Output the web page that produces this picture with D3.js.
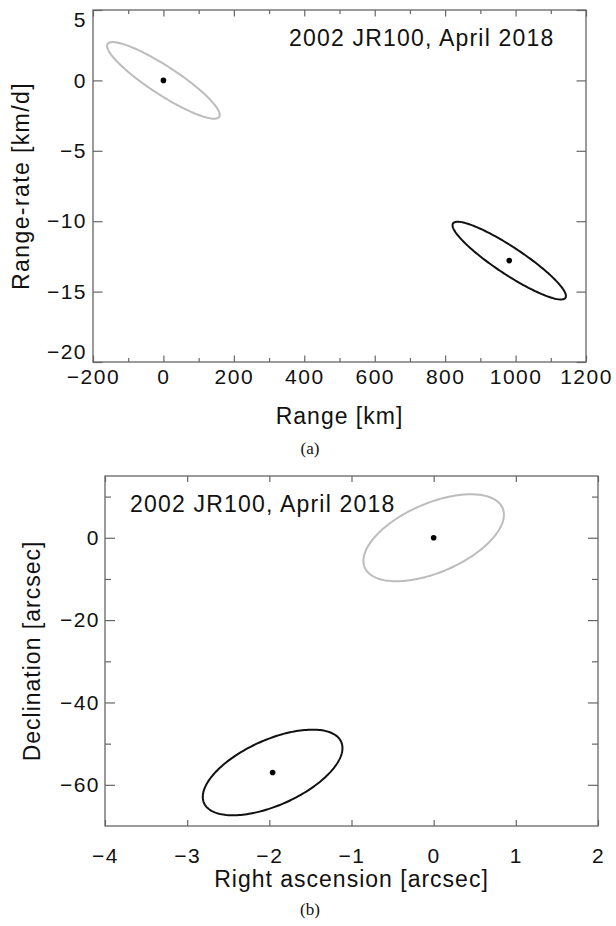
<!DOCTYPE html>
<html>
<head>
<meta charset="utf-8">
<script src="https://cdn.jsdelivr.net/npm/d3@7"></script>
<style>
  html, body { margin: 0; padding: 0; background: #fff; }
  svg { display: block; }
</style>
</head>
<body>
<svg id="chart" width="616" height="926"></svg>
<script>
// ---------------- DATA ----------------
const titleText = "2002 JR100, April 2018";

// Panel (a): range / range-rate
const aXDomain = [-200, 1200];
const aYDomain = [-20, 5];
const aXTicks = [-200, 0, 200, 400, 600, 800, 1000, 1200];
const aXMinorTicks = [-100, 100, 300, 500, 700, 900, 1100];
const aYTicks = [-20, -15, -10, -5, 0, 5];
const aCenterX = [0, 982];        // km
const aCenterY = [0, -12.8];      // km/d
const aSigmaX = [160, 161];       // half-extent in range
const aSigmaY = [2.72, 2.76];     // half-extent in range-rate
const aRho = [-0.9, -0.91];       // correlation
const aXLabel = "Range [km]";
const aYLabel = "Range-rate [km/d]";

// Panel (b): RA / Dec
const bXDomain = [-4, 2];
const bYDomain = [-70, 15];
const bXTicks = [-4, -3, -2, -1, 0, 1, 2];
const bYTicks = [-60, -40, -20, 0];
const bYMinorTicks = [-50, -30, -10, 10];
const bCenterX = [0, -1.96];
const bCenterY = [0, -57.0];
const bSigmaX = [0.855, 0.85];
const bSigmaY = [10.56, 10.4];
const bRho = [0.53, 0.57];
const bXLabel = "Right ascension [arcsec]";
const bYLabel = "Declination [arcsec]";

// ---------------- STYLE ----------------
const ellipseColors = ["#bcbcbc", "#111111"];
const frameColor = "#666";
const SANS = "'Liberation Sans', Arial, Helvetica, sans-serif";
const SERIF = "'Liberation Serif', 'Times New Roman', serif";

const svg = d3.select("#chart");
svg.append("rect").attr("width", 616).attr("height", 926).attr("fill", "#fff");

const fmt = d3.format("d");

function ellipsePoints(cx, cy, sx, sy, rho) {
  const pts = [];
  const s = Math.sqrt(1 - rho * rho);
  for (let i = 0; i <= 200; i++) {
    const t = (i / 200) * 2 * Math.PI;
    pts.push([cx + sx * Math.cos(t), cy + sy * (rho * Math.cos(t) + s * Math.sin(t))]);
  }
  return pts;
}

function panel(opt) {
  const { left, right, top, bottom } = opt;
  const x = d3.scaleLinear().domain(opt.xDomain).range([left, right]);
  const y = d3.scaleLinear().domain(opt.yDomain).range([bottom, top]);
  const g = svg.append("g");

  const styleAxis = sel => {
    sel.select(".domain").remove();
    sel.selectAll(".tick line").attr("stroke", frameColor).attr("stroke-width", 1.2);
    sel.selectAll(".tick text")
      .attr("fill", "#111")
      .style("font-family", SANS)
      .style("font-size", opt.tickFont + "px")
      .style("letter-spacing", opt.tickLS + "px");
  };

  // bottom major (with labels)
  g.append("g").attr("transform", `translate(0,${bottom})`)
    .call(d3.axisBottom(x).tickValues(opt.xTicks).tickFormat(fmt)
      .tickSizeInner(-opt.xMajorLen).tickSizeOuter(0).tickPadding(opt.xPad))
    .call(styleAxis);
  // top major
  g.append("g").attr("transform", `translate(0,${top})`)
    .call(d3.axisTop(x).tickValues(opt.xTicks).tickFormat("")
      .tickSizeInner(-opt.xMajorLen).tickSizeOuter(0))
    .call(styleAxis);
  if (opt.xMinor) {
    g.append("g").attr("transform", `translate(0,${bottom})`)
      .call(d3.axisBottom(x).tickValues(opt.xMinor).tickFormat("")
        .tickSizeInner(-opt.xMinorLen).tickSizeOuter(0))
      .call(styleAxis);
    g.append("g").attr("transform", `translate(0,${top})`)
      .call(d3.axisTop(x).tickValues(opt.xMinor).tickFormat("")
        .tickSizeInner(-opt.xMinorLen).tickSizeOuter(0))
      .call(styleAxis);
  }
  // left major with labels
  const yl = g.append("g").attr("transform", `translate(${left},0)`)
    .call(d3.axisLeft(y).tickValues(opt.yTicks).tickFormat(fmt)
      .tickSizeInner(-opt.yMajorLen).tickSizeOuter(0).tickPadding(opt.yPad))
    .call(styleAxis);
  // keep end labels inside the frame's vertical span
  const capHalf = 0.36 * opt.tickFont;
  yl.selectAll(".tick").each(function(d) {
    const ty = y(d);
    let shift = 0;
    if (ty - capHalf < top + 2) shift = (top + 2 + capHalf) - ty;
    if (ty + capHalf > bottom - 3) shift = (bottom - 3 - capHalf) - ty;
    if (shift !== 0) d3.select(this).select("text").attr("dy", (0.32 * opt.tickFont + shift) + "px");
  });
  g.append("g").attr("transform", `translate(${right},0)`)
    .call(d3.axisRight(y).tickValues(opt.yTicks).tickFormat("")
      .tickSizeInner(-opt.yMajorLen).tickSizeOuter(0))
    .call(styleAxis);
  if (opt.yMinor) {
    g.append("g").attr("transform", `translate(${left},0)`)
      .call(d3.axisLeft(y).tickValues(opt.yMinor).tickFormat("")
        .tickSizeInner(-opt.yMinorLen).tickSizeOuter(0))
      .call(styleAxis);
    g.append("g").attr("transform", `translate(${right},0)`)
      .call(d3.axisRight(y).tickValues(opt.yMinor).tickFormat("")
        .tickSizeInner(-opt.yMinorLen).tickSizeOuter(0))
      .call(styleAxis);
  }

  // frame
  g.append("rect")
    .attr("x", x(opt.xDomain[0])).attr("y", y(opt.yDomain[1]))
    .attr("width", x(opt.xDomain[1]) - x(opt.xDomain[0]))
    .attr("height", y(opt.yDomain[0]) - y(opt.yDomain[1]))
    .attr("fill", "none").attr("stroke", frameColor).attr("stroke-width", 1.3);

  // ellipses
  const line = d3.line().x(d => x(d[0])).y(d => y(d[1])).curve(d3.curveLinearClosed);
  opt.cx.forEach((cx, i) => {
    g.append("path")
      .attr("d", line(ellipsePoints(cx, opt.cy[i], opt.sx[i], opt.sy[i], opt.rho[i])))
      .attr("fill", "none").attr("stroke", ellipseColors[i]).attr("stroke-width", 2);
    g.append("circle").attr("cx", x(cx)).attr("cy", y(opt.cy[i])).attr("r", 2.8).attr("fill", "#000");
  });

  // title
  g.append("text").attr("x", opt.titleX).attr("y", opt.titleY)
    .style("font-family", SANS).style("font-size", "23px").style("letter-spacing", "1.2px")
    .attr("fill", "#111").text(titleText);

  // axis labels
  g.append("text").attr("x", (left + right) / 2).attr("y", opt.xLabelY)
    .attr("text-anchor", "middle")
    .style("font-family", SANS).style("font-size", "23px").style("letter-spacing", "1px")
    .attr("fill", "#111").text(opt.xLabel);
  g.append("text")
    .attr("transform", `translate(${opt.yLabelX},${(top + bottom) / 2}) rotate(-90)`)
    .attr("text-anchor", "middle")
    .style("font-family", SANS).style("font-size", "23px").style("letter-spacing", opt.yLabelLS + "px")
    .attr("fill", "#111").text(opt.yLabel);

  // caption
  g.append("text").attr("x", 310).attr("y", opt.capY).attr("text-anchor", "middle")
    .style("font-family", SERIF).style("font-size", "17px")
    .attr("fill", "#111").text(opt.caption);
}

panel({
  left: 93, right: 586, top: 10, bottom: 362,
  xDomain: aXDomain, yDomain: aYDomain,
  xTicks: aXTicks, xMinor: aXMinorTicks, yTicks: aYTicks, yMinor: null,
  xMajorLen: 6.5, xMinorLen: 4, yMajorLen: 9.5, yMinorLen: 0,
  xPad: 7, yPad: 6, tickFont: 21, tickLS: 1.5,
  cx: aCenterX, cy: aCenterY, sx: aSigmaX, sy: aSigmaY, rho: aRho,
  titleX: 289, titleY: 46,
  xLabel: aXLabel, yLabel: aYLabel, xLabelY: 424, yLabelX: 29, yLabelLS: 1.4,
  caption: "(a)", capY: 454
});

panel({
  left: 105, right: 598, top: 476, bottom: 826,
  xDomain: bXDomain, yDomain: bYDomain,
  xTicks: bXTicks, xMinor: null, yTicks: bYTicks, yMinor: bYMinorTicks,
  xMajorLen: 6, xMinorLen: 0, yMajorLen: 10, yMinorLen: 6,
  xPad: 22, yPad: 5, tickFont: 21, tickLS: 1.5,
  cx: bCenterX, cy: bCenterY, sx: bSigmaX, sy: bSigmaY, rho: bRho,
  titleX: 130, titleY: 512,
  xLabel: bXLabel, yLabel: bYLabel, xLabelY: 887, yLabelX: 40, yLabelLS: 1,
  caption: "(b)", capY: 915
});
</script>
</body>
</html>
